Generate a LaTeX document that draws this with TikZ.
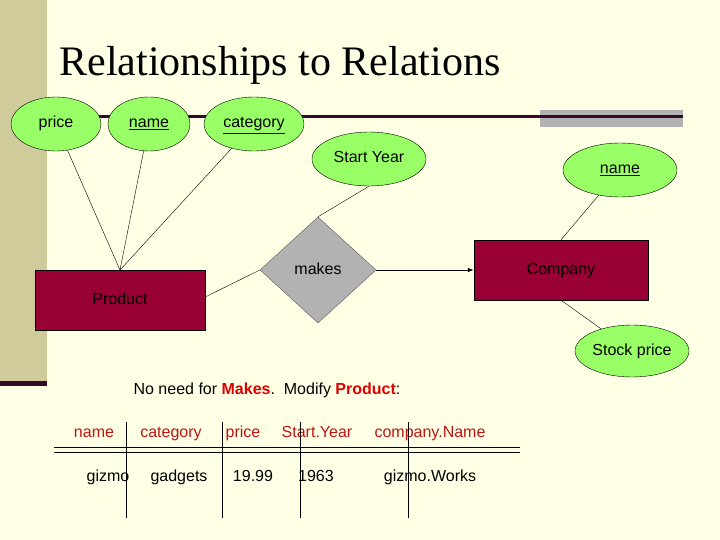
\documentclass[tikz,border=0pt]{standalone}
\usepackage{fontspec}
\setmainfont{Liberation Sans}
\newfontfamily\titlefont{Liberation Serif}
\usetikzlibrary{shapes.geometric,arrows.meta}
\begin{document}
\begin{tikzpicture}
[x=1pt,y=-1pt,
% Styles
txt/.style={font=\fontsize{16}{18}\selectfont,text height=11.5pt,text depth=3.5pt},
attr/.style={ellipse,draw,fill=attrgreen,minimum width=#1,minimum height=54,inner sep=0pt,txt},
attr/.default=90,
entity/.style={rectangle,draw,fill=entitycolor,minimum width=170,minimum height=60,txt},
relation/.style={diamond,draw=gray!70!black,fill=gray!60,minimum width=116,minimum height=106,inner sep=0pt,txt},
tabtext/.style={txt},
head/.style={tabtext,text=headred}]
% Colors
\definecolor{bgcolor}{RGB}{255,255,230}
\definecolor{sidebar}{RGB}{207,203,155}
\definecolor{barline}{RGB}{50,10,40}
\definecolor{attrgreen}{RGB}{153,255,102}
\definecolor{entitycolor}{RGB}{153,0,51}
\definecolor{headred}{RGB}{190,20,20}
\definecolor{boldred}{RGB}{220,0,0}
% The graphic
\fill[bgcolor] (0,0) rectangle (720,540);
\useasboundingbox (0,0) rectangle (720,540);
\fill[sidebar] (0,0) rectangle (47,385);
\fill[barline] (0,381) rectangle (47,386);
\node[font=\titlefont\fontsize{42}{44}\selectfont,anchor=west] (title) at (56,65) {Relationships to Relations};
\fill[gray!60] (540,110) rectangle (683,127);
\draw[barline,line width=3pt] (60,117) -- (683,117);
% ER diagram
\node[attr=90] (price) at (56,124) {price};
\node[attr=82] (pname) at (149,124) {\underline{name}};
\node[attr=100] (category) at (254,124) {\underline{category}};
\node[attr=114] (start) at (369,159) {Start Year};
\node[attr=114] (cname) at (620,170) {\underline{name}};
\node[attr=114,minimum height=52] (stock) at (632,351) {Stock price};
\node[entity] (product) at (120,300) {Product};
\node[entity,minimum width=174] (company) at (561,270) {Company};
\node[relation] (makes) at (318,270) {makes};
\coordinate (ptop) at (120,270);
\draw (price) -- (ptop);
\draw (pname) -- (ptop);
\draw (category) -- (ptop);
\draw (start.south) -- (makes.north);
\draw (product.east) ++(0,-3) -- (makes.west);
\draw[thick,-{Latex[length=6pt]}] (makes.east) -- (company.west);
\draw (cname) -- (company.north);
\draw (company.south) -- (stock);
% Relation table
\node[tabtext] (note) at (267,390) {No need for {\bfseries\color{boldred}Makes}.\ \ Modify {\bfseries\color{boldred}Product}:};
\foreach \x/\t [count=\i] in {94/name,171/category,243/price,317/Start.Year,430/company.Name}
  \node[head] (h\i) at (\x,433) {\t};
\foreach \x/\t [count=\i] in {108/gizmo,179/gadgets,253/19.99,316/1963,430/gizmo.Works}
  \node[tabtext] (d\i) at (\x,477) {\t};
\draw (54,447) -- (520,447);
\draw (54,452) -- (520,452);
\foreach \x in {126,222,300,408}
  \draw (\x,422) -- (\x,518);
\end{tikzpicture}
\end{document}
